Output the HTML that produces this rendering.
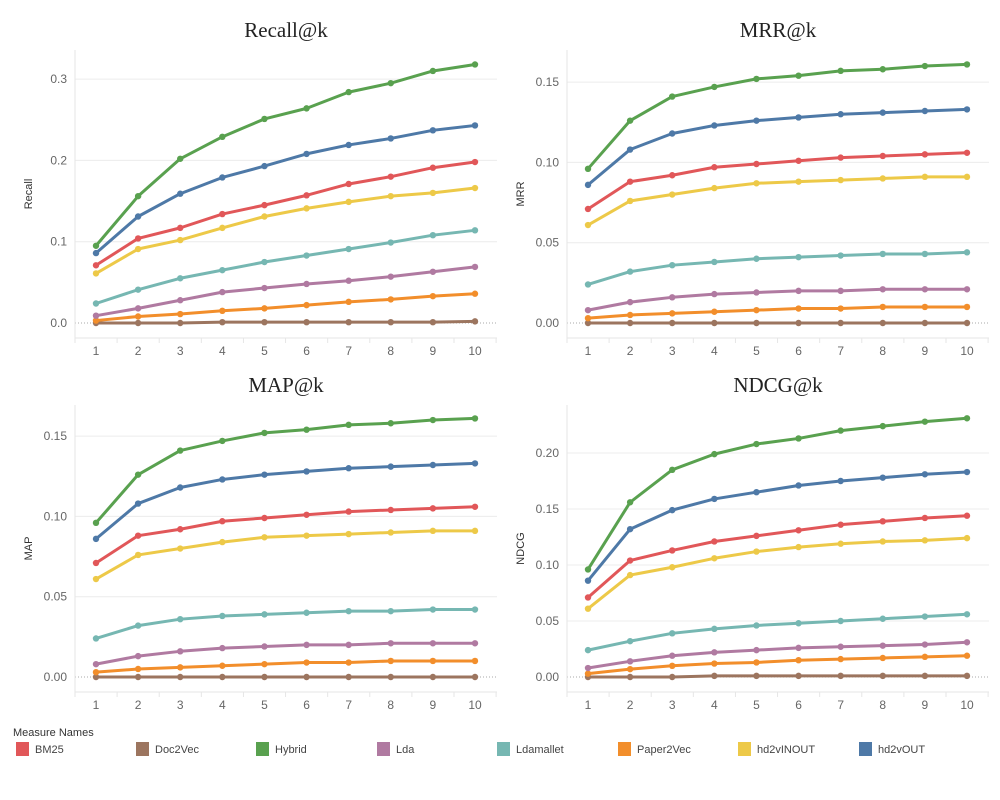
<!DOCTYPE html>
<html><head><meta charset="utf-8"><style>
body{margin:0;background:#fff;width:1000px;height:800px;overflow:hidden;font-family:"Liberation Sans",sans-serif}
svg{position:absolute;left:0;top:0}
</style></head><body>
<svg id="c" width="1000" height="800"></svg>
<script>
const ks=[1,2,3,4,5,6,7,8,9,10];
const series=["BM25","Doc2Vec","Hybrid","Lda","Ldamallet","Paper2Vec","hd2vINOUT","hd2vOUT"];
const colors=["#e15759","#9c755f","#59a14f","#b07aa1","#76b7b2","#f28e2b","#edc948","#4e79a7"];
const recall={
BM25:[.071,.104,.117,.134,.145,.157,.171,.180,.191,.198],
Doc2Vec:[0,0,0,.001,.001,.001,.001,.001,.001,.002],
Hybrid:[.095,.156,.202,.229,.251,.264,.284,.295,.310,.318],
Lda:[.009,.018,.028,.038,.043,.048,.052,.057,.063,.069],
Ldamallet:[.024,.041,.055,.065,.075,.083,.091,.099,.108,.114],
Paper2Vec:[.003,.008,.011,.015,.018,.022,.026,.029,.033,.036],
hd2vINOUT:[.061,.091,.102,.117,.131,.141,.149,.156,.160,.166],
hd2vOUT:[.086,.131,.159,.179,.193,.208,.219,.227,.237,.243]};
const mrr={
BM25:[.071,.088,.092,.097,.099,.101,.103,.104,.105,.106],
Doc2Vec:[0,0,0,0,0,0,0,0,0,0],
Hybrid:[.096,.126,.141,.147,.152,.154,.157,.158,.160,.161],
Lda:[.008,.013,.016,.018,.019,.020,.020,.021,.021,.021],
Ldamallet:[.024,.032,.036,.038,.040,.041,.042,.043,.043,.044],
Paper2Vec:[.003,.005,.006,.007,.008,.009,.009,.010,.010,.010],
hd2vINOUT:[.061,.076,.080,.084,.087,.088,.089,.090,.091,.091],
hd2vOUT:[.086,.108,.118,.123,.126,.128,.130,.131,.132,.133]};
const map={
BM25:[.071,.088,.092,.097,.099,.101,.103,.104,.105,.106],
Doc2Vec:[0,0,0,0,0,0,0,0,0,0],
Hybrid:[.096,.126,.141,.147,.152,.154,.157,.158,.160,.161],
Lda:[.008,.013,.016,.018,.019,.020,.020,.021,.021,.021],
Ldamallet:[.024,.032,.036,.038,.039,.040,.041,.041,.042,.042],
Paper2Vec:[.003,.005,.006,.007,.008,.009,.009,.010,.010,.010],
hd2vINOUT:[.061,.076,.080,.084,.087,.088,.089,.090,.091,.091],
hd2vOUT:[.086,.108,.118,.123,.126,.128,.130,.131,.132,.133]};
const ndcg={
BM25:[.071,.104,.113,.121,.126,.131,.136,.139,.142,.144],
Doc2Vec:[0,0,0,.001,.001,.001,.001,.001,.001,.001],
Hybrid:[.096,.156,.185,.199,.208,.213,.220,.224,.228,.231],
Lda:[.008,.014,.019,.022,.024,.026,.027,.028,.029,.031],
Ldamallet:[.024,.032,.039,.043,.046,.048,.050,.052,.054,.056],
Paper2Vec:[.003,.007,.010,.012,.013,.015,.016,.017,.018,.019],
hd2vINOUT:[.061,.091,.098,.106,.112,.116,.119,.121,.122,.124],
hd2vOUT:[.086,.132,.149,.159,.165,.171,.175,.178,.181,.183]};
const recallTicks=["0.0","0.1","0.2","0.3"];
const mrrTicks=["0.00","0.05","0.10","0.15"];
const ndcgTicks=["0.00","0.05","0.10","0.15","0.20"];

const svg=document.getElementById('c');
const NS='http://www.w3.org/2000/svg';
function mk(t,a,p){const e=document.createElementNS(NS,t);for(const k in a)e.setAttribute(k,a[k]);(p||svg).appendChild(e);return e;}

function panel(o){
  const g=mk('g',{});
  
  
  const X=k=>o.x1+(k-1)*(o.x10-o.x1)/9;
  const Y=v=>o.y0-v*o.scale;
  const t=mk('text',{x:(o.left+o.right)/2,y:o.titleY,'text-anchor':'middle','font-family':'Liberation Serif, serif','font-size':21,fill:'#222'},g);
  t.textContent=o.title;
  
  o.ticks.forEach(s=>{
    const v=parseFloat(s),y=Y(v);
    if(v>0) mk('line',{x1:o.left,x2:o.right,y1:y,y2:y,stroke:'#ececec','stroke-width':1},g);
    else mk('line',{x1:o.left,x2:o.right,y1:y,y2:y,stroke:'#aaa','stroke-width':1,'stroke-dasharray':'1,2'},g);
    const tl=mk('text',{x:o.left-8,y:y+4,'text-anchor':'end','font-size':12,fill:'#666'},g);tl.textContent=s;
    
  });
  mk('line',{x1:o.left,x2:o.left,y1:o.top,y2:o.bottom,stroke:'#e6e6e6'},g);
  mk('line',{x1:o.left,x2:o.right,y1:o.bottom,y2:o.bottom,stroke:'#e6e6e6'},g);
  const step=(o.x10-o.x1)/9;
  for(let i=0;i<=10;i++){const x=o.left+i*step;mk('line',{x1:x,x2:x,y1:o.bottom,y2:o.bottom+5,stroke:'#e6e6e6'},g);}
  ks.forEach(k=>{const tl=mk('text',{x:X(k),y:o.bottom+17,'text-anchor':'middle','font-size':12,fill:'#666'},g);tl.textContent=k;
    });
  const yt=mk('text',{x:0,y:0,'text-anchor':'middle','font-size':11,fill:'#333',transform:`translate(${o.left-43},${(o.top+o.bottom)/2}) rotate(-90)`},g);
  yt.textContent=o.ylabel;
  const order=["Doc2Vec","Paper2Vec","Lda","Ldamallet","hd2vINOUT","BM25","hd2vOUT","Hybrid"];
  order.forEach(s=>{
    const c=colors[series.indexOf(s)],vals=o.data[s];
    const pl=mk('polyline',{points:vals.map((v,i)=>X(ks[i])+','+Y(v)).join(' '),fill:'none',stroke:c,'stroke-width':3,'stroke-linejoin':'round'},g);
    
    vals.forEach((v,i)=>{const p=mk('circle',{cx:X(ks[i]),cy:Y(v),r:3.2,fill:c},g);
      });
  });
}
panel({name:'recall-panel',title:'Recall@k',ylabel:'Recall',data:recall,ticks:recallTicks,left:75,right:497,top:50,bottom:338,x1:96,x10:475,y0:323,scale:813,titleY:37});
panel({name:'mrr-panel',title:'MRR@k',ylabel:'MRR',data:mrr,ticks:mrrTicks,left:567,right:989,top:50,bottom:338,x1:588,x10:967,y0:323,scale:1606,titleY:37});
panel({name:'map-panel',title:'MAP@k',ylabel:'MAP',data:map,ticks:mrrTicks,left:75,right:497,top:405,bottom:692,x1:96,x10:475,y0:677,scale:1606,titleY:392});
panel({name:'ndcg-panel',title:'NDCG@k',ylabel:'NDCG',data:ndcg,ticks:ndcgTicks,left:567,right:989,top:405,bottom:692,x1:588,x10:967,y0:677,scale:1120,titleY:392});

const lg=mk('g',{});

const lt=mk('text',{x:13,y:736,'font-size':11,fill:'#333'},lg);lt.textContent='Measure Names';
const lx=[16,136,256,377,497,618,738,859];
series.forEach((s,i)=>{
  const e=mk('g',{},lg);
  
  mk('rect',{x:lx[i],y:742,width:13,height:14,fill:colors[i]},e);
  const t=mk('text',{x:lx[i]+19,y:753,'font-size':11,fill:'#444'},e);t.textContent=s;
});
</script>
</body></html>
